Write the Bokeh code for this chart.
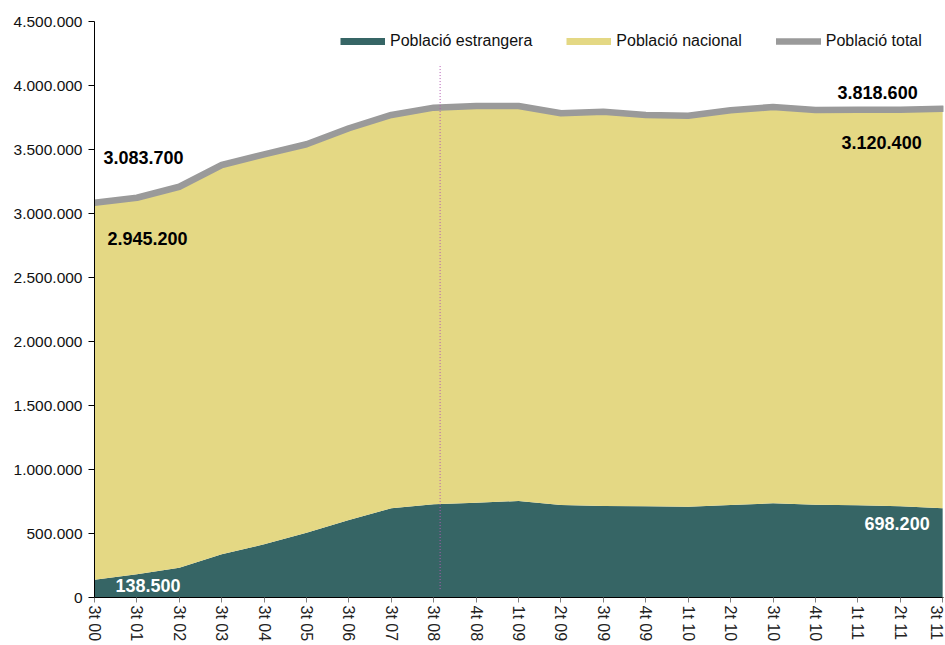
from bokeh.plotting import figure
from bokeh.models import (ColumnDataSource, Range1d, FixedTicker, CustomJSTickFormatter,
                          Legend, LegendItem)
from bokeh.core.properties import value
from bokeh.embed import file_html
from bokeh.resources import INLINE

# ---- data ----
periods = ["3t 00", "3t 01", "3t 02", "3t 03", "3t 04", "3t 05", "3t 06", "3t 07",
           "3t 08", "4t 08", "1t 09", "2t 09", "3t 09", "4t 09", "1t 10", "2t 10",
           "3t 10", "4t 10", "1t 11", "2t 11", "3t 11"]
total = [3083700, 3123000, 3209000, 3379000, 3462000, 3541000, 3666000, 3770000,
         3827000, 3840000, 3840000, 3783000, 3795000, 3770000, 3764000, 3806000,
         3832000, 3809000, 3811000, 3811000, 3818600]
estrangera = [138500, 181000, 233000, 337000, 416000, 506000, 605000, 697000,
              728000, 741000, 754000, 723000, 715000, 712000, 709000, 723000,
              736000, 725000, 720000, 712000, 698200]
nacional = [2945200, 2942000, 2976000, 3042000, 3046000, 3035000, 3061000, 3073000,
            3099000, 3099000, 3086000, 3060000, 3080000, 3058000, 3055000, 3083000,
            3096000, 3084000, 3091000, 3099000, 3120400]
y_ticks = [0, 500000, 1000000, 1500000, 2000000, 2500000, 3000000, 3500000, 4000000, 4500000]
marker_x = 8.15            # dotted reference line position (category units)
marker_y = (66000, 4168000)

TEAL = "#366565"
YELLOW = "#e4d884"
GREY = "#9a9a9a"
FONT = "Liberation Sans"

x = list(range(len(periods)))
src = ColumnDataSource(dict(x=x, estrangera=estrangera, nacional=nacional, total=total))

p = figure(width=944, height=644, output_backend="svg", toolbar_location=None,
           x_range=Range1d(0, len(periods) - 1 + 0.02), y_range=Range1d(0, y_ticks[-1]),
           min_border_left=94, min_border_right=1, min_border_top=21, min_border_bottom=47)
p.outline_line_color = None
p.xgrid.visible = False
p.ygrid.visible = False
p.background_fill_color = "white"

p.varea_stack(["estrangera", "nacional"], x="x", color=[TEAL, YELLOW], source=src)
tot = p.line("x", "total", source=src, line_color=GREY, line_width=6.5,
             line_join="round", line_cap="round")

p.segment(x0=[marker_x], y0=[marker_y[0]], x1=[marker_x], y1=[marker_y[1]],
          line_color="#b45ab4", line_width=1, line_dash="1 2")

# legend proxies (not visible in the plot area)
nan = float("nan")
l1 = p.line(x=[0, 1], y=[nan, nan], line_color=TEAL, line_width=7, line_cap="butt")
l2 = p.line(x=[0, 1], y=[nan, nan], line_color=YELLOW, line_width=7, line_cap="butt")
legend = Legend(items=[LegendItem(label="Població estrangera", renderers=[l1]),
                       LegendItem(label="Població nacional", renderers=[l2]),
                       LegendItem(label="Població total", renderers=[tot])],
                orientation="horizontal", location=(246, 547),
                glyph_width=45, glyph_height=18, label_height=18, label_standoff=5,
                spacing=34, padding=0, margin=0,
                background_fill_alpha=0, border_line_alpha=0,
                label_text_font=FONT, label_text_font_size="16px",
                label_text_color="#111111")
p.add_layout(legend)

# axes
fmt = CustomJSTickFormatter(code="return Math.round(tick).toString().replace(/\\B(?=(\\d{3})+(?!\\d))/g, '.');")
p.yaxis.ticker = FixedTicker(ticks=y_ticks)
p.yaxis.formatter = fmt
p.yaxis.major_tick_out = 6
p.yaxis.major_tick_in = 0
p.yaxis.minor_tick_out = 0
p.yaxis.minor_tick_in = 0
p.yaxis.axis_line_color = "black"
p.yaxis.major_tick_line_color = "black"
p.yaxis.major_label_standoff = 6
p.yaxis.major_label_text_font = FONT
p.yaxis.major_label_text_font_size = "15.5px"
p.yaxis.major_label_text_color = "#111111"

p.xaxis.ticker = FixedTicker(ticks=x)
p.xaxis.major_label_overrides = {i: lab for i, lab in enumerate(periods)}
p.xaxis.major_label_orientation = "vertical"
p.xaxis.major_tick_out = 5
p.xaxis.major_tick_in = 0
p.xaxis.minor_tick_out = 0
p.xaxis.axis_line_color = "black"
p.xaxis.major_tick_line_color = "#808080"
p.xaxis.major_label_standoff = 3
p.xaxis.major_label_text_font = FONT
p.xaxis.major_label_text_font_size = "16px"
p.xaxis.major_label_text_color = "#222222"

# value labels anchored on first / last data points
def fmt_num(v):
    return f"{v:,}".replace(",", ".")

last = len(periods) - 1
lab_src = ColumnDataSource(dict(
    x=[0, 0, 0, last, last, last],
    y=[total[0], nacional[0], estrangera[0], total[last], nacional[last], estrangera[last]],
    text=[fmt_num(total[0]), fmt_num(nacional[0]), fmt_num(estrangera[0]),
          fmt_num(total[last]), fmt_num(nacional[last]), fmt_num(estrangera[last])],
    xo=[9, 13, 21, -25, -21, -13],
    yo=[-45, 18, 6, -16, -56, 15.5],
    color=["black", "black", "white", "black", "black", "white"],
    align=["left", "left", "left", "right", "right", "right"],
))
p.text(x="x", y="y", text="text", x_offset="xo", y_offset="yo", text_color="color",
       text_align="align", text_baseline="middle", text_font=value(FONT),
       text_font_style="bold", text_font_size=value("18px"), source=lab_src)

open("out.html", "w").write(file_html(p, INLINE))
